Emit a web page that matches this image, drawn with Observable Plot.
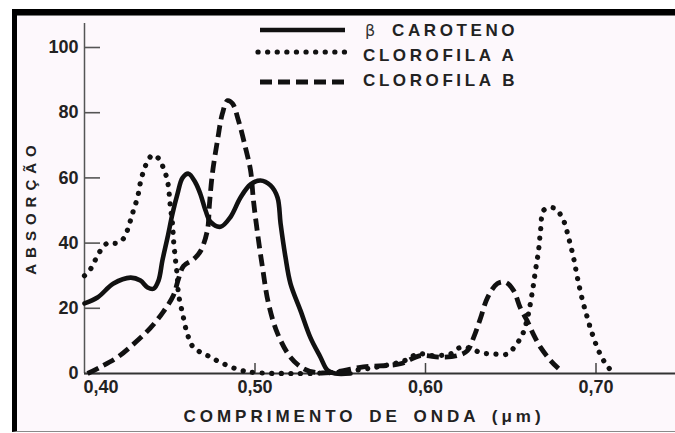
<!DOCTYPE html>
<html><head><meta charset="utf-8">
<script src="https://cdn.jsdelivr.net/npm/d3@7"></script>
<script src="https://cdn.jsdelivr.net/npm/@observablehq/plot@0.6"></script>
<style>
html,body{margin:0;padding:0;background:#fff;}
#wrap{position:relative;width:675px;height:433px;overflow:hidden;background:#fff;}
#panel{position:absolute;left:12px;top:9px;width:663px;height:423px;background:#fdf8fc;border-top:6px solid #000;border-left:5px solid #000;border-bottom:1px solid #8a8a8a;box-sizing:border-box;box-shadow:inset 0 1px 0 #777;}
#chart{position:absolute;left:0;top:0;}
</style></head><body>
<div id="wrap"><div id="panel"></div><div id="chart"></div></div>
<script>
// ---- data ----
const xTickValues = [0.40, 0.50, 0.60, 0.70];
const xTickLabels = ["0,40", "0,50", "0,60", "0,70"];
const yTickValues = [0, 20, 40, 60, 80, 100];
const xTitle = "COMPRIMENTO DE ONDA (\u03bcm)";
const yTitle = "ABSORÇÃO";
const seriesNames = ["CAROTENO", "CLOROFILA A", "CLOROFILA B"];

// [wavelength (µm), absorption]
const caroteno = [
  [0.400,21.5],[0.4076,23.3],[0.417,27.6],[0.427,29.4],[0.4328,28.5],[0.437,26.4],
  [0.4405,26],[0.4434,28.5],[0.4457,34.7],[0.4487,41.7],[0.4516,49],[0.4545,55],
  [0.4575,60],[0.461,61.3],[0.4651,58.5],[0.468,55],[0.471,50],[0.4739,46.5],
  [0.4798,45],[0.4856,48],[0.4915,54],[0.4974,58],[0.5032,59.2],[0.5091,57.7],
  [0.5132,54],[0.515,46],[0.5179,35.6],[0.5208,27.6],[0.5267,19.3],[0.5325,11],
  [0.5384,5],[0.5425,1],[0.547,0],[0.556,0]
];
const clorofilaA = [
  [0.400,30],[0.4035,32],[0.4065,35],[0.4094,37.7],[0.4135,40],[0.4194,40],
  [0.4229,41.4],[0.4252,44],[0.427,47],[0.4287,50],[0.4311,54],[0.4328,58.6],
  [0.4346,62],[0.4369,65],[0.4399,67],[0.4434,66],[0.4463,63],[0.4487,59],
  [0.4504,51],[0.4516,46],[0.4522,41],[0.4534,34.7],[0.4545,29.4],[0.4551,24.5],
  [0.4575,18.4],[0.4604,12],[0.4639,8],[0.4721,5.5],[0.4815,3],[0.4915,1],
  [0.50,0.3],[0.52,0],[0.545,0.3],[0.5695,1.8],[0.588,4],[0.5953,6],[0.6047,5.5],
  [0.6147,6],[0.6205,8],[0.6264,7.7],[0.6323,6.4],[0.6399,6],[0.6481,6],
  [0.6528,8.6],[0.6569,12],[0.6598,17],[0.6628,25.5],[0.6645,31.6],[0.6663,37.7],
  [0.6675,44],[0.6692,50],[0.6727,50.8],[0.6762,50.6],[0.6809,47],[0.6839,41.7],
  [0.6868,35.6],[0.6891,29.4],[0.6921,22.4],[0.695,17],[0.6979,12],[0.7015,7],
  [0.7056,3],[0.7103,0]
];
const clorofilaB = [
  [0.4018,0],[0.4094,2],[0.4194,5],[0.4287,9],[0.4387,14],[0.4463,19],[0.4522,24],
  [0.4551,29],[0.4581,33],[0.4639,35],[0.468,37.5],[0.4721,44],[0.4733,52],
  [0.475,61.3],[0.478,71.5],[0.4809,79.8],[0.4839,83.7],[0.4868,82.8],[0.4903,77.6],
  [0.4944,69.3],[0.4974,62.3],[0.4991,53],[0.5015,43],[0.5044,32.5],[0.5079,21.5],
  [0.5132,12.3],[0.5208,5],[0.5284,1.5],[0.5355,0.3],[0.5443,0.3],[0.5636,2],
  [0.5853,3],[0.597,5.5],[0.6088,5],[0.6188,5.5],[0.6246,7],[0.6282,11],[0.6323,17],
  [0.6364,23.3],[0.6422,27.6],[0.6469,28],[0.6516,25.5],[0.6557,20],[0.6598,16],
  [0.6633,12],[0.6675,8],[0.6733,4],[0.678,1.5]
];

// ---- layout ----
const W = 675, H = 433, ML = 84, MT = 23, MB = 60;
const xMax = 0.40 + (W - ML) / 1705;
const yMax = (H - MB - MT) / 3.26;
const FONT = "'Liberation Sans', Arial, Helvetica, sans-serif";
const INK = "#111";
const solidStyle = {stroke: INK, strokeWidth: 4.6, strokeLinejoin: "round", strokeLinecap: "round"};
const dotStyle = {stroke: INK, strokeWidth: 5.2, strokeDasharray: "0.1 9.5", strokeLinecap: "round"};
const dashStyle = {stroke: INK, strokeWidth: 4.8, strokeDasharray: "12 6", strokeLinecap: "butt"};
const px = d => d[0], py = d => d[1];

const plot = Plot.plot({
  width: W, height: H,
  marginLeft: ML, marginRight: 0, marginTop: MT, marginBottom: MB,
  style: {background: "transparent", fontFamily: FONT, color: "#1a1a1a", overflow: "visible"},
  x: {domain: [0.40, xMax], axis: null},
  y: {domain: [0, yMax], axis: null},
  marks: [
    Plot.ruleX([0.40], {stroke: "#555", strokeWidth: 1.5}),
    Plot.tickY(yTickValues, {y: d => d, insetRight: W - ML - 16, stroke: "#555", strokeWidth: 1.6}),
    Plot.tickX(xTickValues.slice(1), {x: d => d, insetTop: (H - MT - MB) - 10, stroke: "#444", strokeWidth: 1.5}),
    Plot.ruleY([0], {stroke: "#333", strokeWidth: 2}),
    Plot.text(yTickValues, {frameAnchor: "left", y: d => d, dx: -6, textAnchor: "end",
      text: d => String(d), fontSize: 18, fontWeight: "bold", fill: "#222"}),
    Plot.text([1, 2, 3], {x: i => xTickValues[i], text: i => xTickLabels[i], frameAnchor: "bottom",
      dy: 19, fontSize: 18, fontWeight: "bold", fill: "#222"}),
    Plot.text([0], {x: i => xTickValues[i], text: i => xTickLabels[i], frameAnchor: "bottom",
      dy: 19, dx: -1, textAnchor: "start", fontSize: 18, fontWeight: "bold", fill: "#222"}),
    Plot.line(clorofilaA, {x: px, y: py, curve: "catmull-rom", ...dotStyle}),
    Plot.line(clorofilaB, {x: px, y: py, curve: "catmull-rom", ...dashStyle}),
    Plot.line(caroteno, {x: px, y: py, curve: "catmull-rom", ...solidStyle})
  ]
});
document.getElementById("chart").append(plot);

// ---- titles and legend ----
const svg = d3.select(plot);
svg.append("text").text(xTitle)
  .attr("x", 364).attr("y", 416).attr("dominant-baseline", "central")
  .attr("text-anchor", "middle").attr("font-family", FONT).attr("font-size", 17)
  .attr("font-weight", "bold").attr("letter-spacing", 4).attr("word-spacing", 4).attr("fill", "#222");
svg.append("text").text(yTitle)
  .attr("transform", "translate(30,207) rotate(-90)").attr("dominant-baseline", "central")
  .attr("text-anchor", "middle").attr("font-family", FONT).attr("font-size", 15)
  .attr("font-weight", "bold").attr("letter-spacing", 6).attr("fill", "#222");

const leg = svg.append("g").attr("text-anchor", "start");
const legRows = [
  {y: 30, ty: 30, style: solidStyle, x1: 260, x2: 345},
  {y: 52, ty: 55, style: dotStyle, x1: 258, x2: 345},
  {y: 82, ty: 80, style: dashStyle, x1: 260, x2: 345}
];
legRows.forEach((r, i) => {
  leg.append("line").attr("x1", r.x1).attr("x2", r.x2).attr("y1", r.y).attr("y2", r.y)
    .attr("stroke", r.style.stroke).attr("stroke-width", r.style.strokeWidth)
    .attr("stroke-dasharray", r.style.strokeDasharray || null)
    .attr("stroke-linecap", i === 0 ? "butt" : r.style.strokeLinecap);
  const tx = i === 0 ? 392 : 363;
  leg.append("text").text(seriesNames[i]).attr("x", tx).attr("y", r.ty)
    .attr("text-anchor", "start")
    .attr("dominant-baseline", "central").attr("font-family", FONT).attr("font-size", 17)
    .attr("font-weight", "bold").attr("letter-spacing", 3.6).attr("fill", "#222");
});
leg.append("text").text("\u03b2").attr("x", 365).attr("y", 30).attr("text-anchor", "start")
  .attr("dominant-baseline", "central").attr("font-family", "'DejaVu Sans', sans-serif")
  .attr("font-size", 16).attr("fill", "#333");
</script></body></html>
